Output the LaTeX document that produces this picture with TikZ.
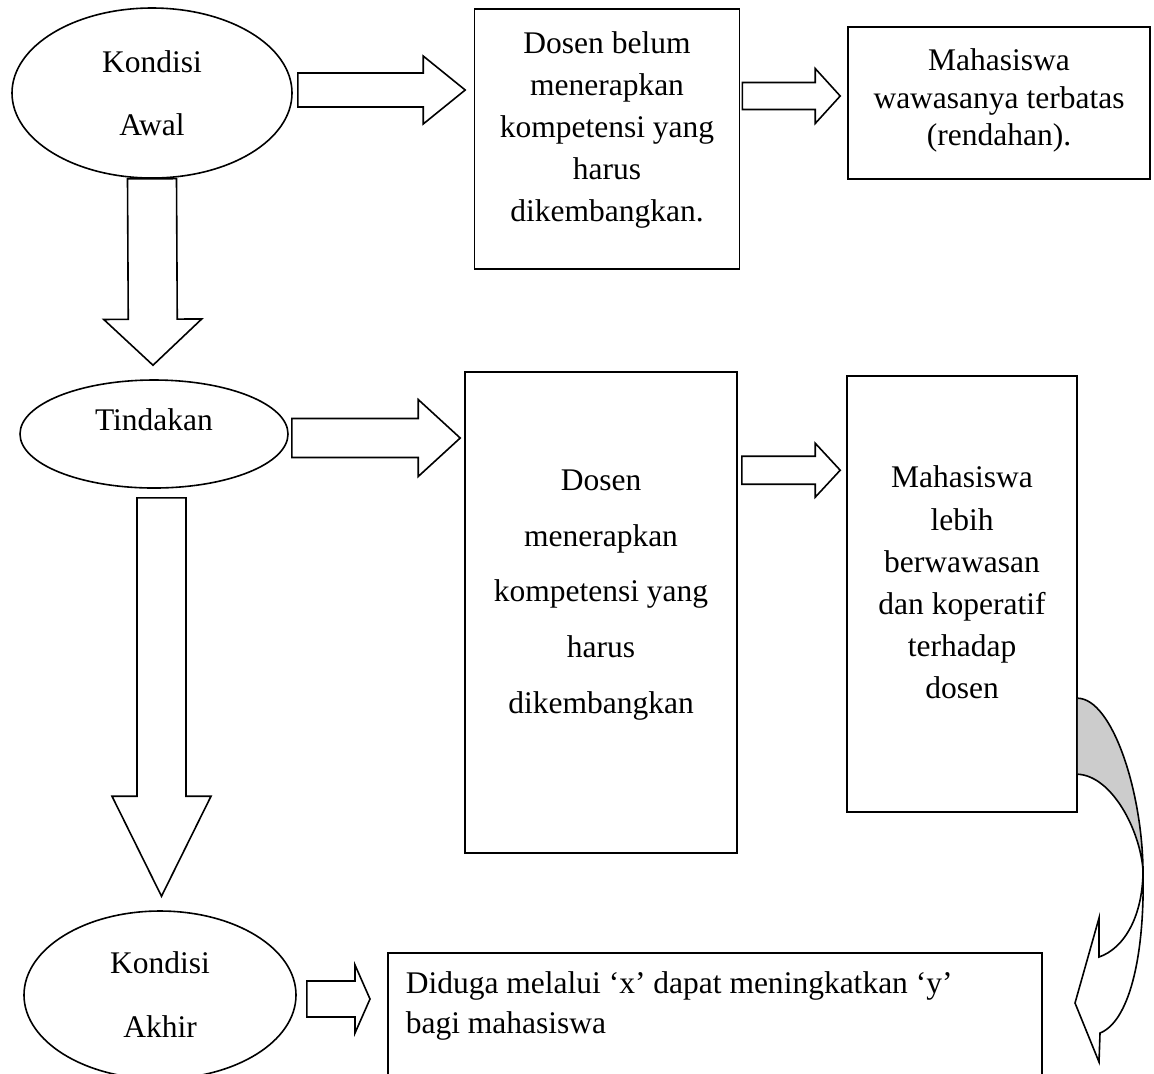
\documentclass[tikz,border=0pt]{standalone}
\usepackage{fontspec}
\setmainfont{Liberation Serif}
\usetikzlibrary{shapes.geometric,calc}

\begin{document}
\begin{tikzpicture}[x=0.5pt,y=-0.5pt,thick,
  state/.style={ellipse,draw,align=center,inner sep=0pt},
  box/.style={rectangle,draw,align=center,inner sep=0pt},
  fat arrow/.style args={#1/#2/#3}{to path={
    (\tikztostart) coordinate (s) (\tikztotarget) coordinate (t)
    ($(t)!#3!(s)$) coordinate (h)
    ($(s)!#1!90:(t)$) -- ($(h)!#1!90:(t)$) -- ($(h)!#2!90:(t)$) -- (t)
    -- ($(h)!#2!-90:(t)$) -- ($(h)!#1!-90:(t)$) -- ($(s)!#1!-90:(t)$) -- cycle}}]

  \useasboundingbox (0,0) rectangle (1154,1073);

  % left column
  \node[state,minimum width=140pt,minimum height=85pt,font=\fontsize{15.75}{31.5}\selectfont] (awal) at (152,93) {Kondisi\\Awal};
  \node[state,minimum width=134pt,minimum height=54pt,text depth=14pt,font=\fontsize{15.75}{19}\selectfont] (tindakan) at (154,434) {Tindakan};
  \node[state,minimum width=136pt,minimum height=84pt,font=\fontsize{15.75}{32}\selectfont] (akhir) at (160,995) {Kondisi\\Akhir};

  % boxes
  \node[box,minimum width=132.5pt,minimum height=130pt,text depth=12.4pt,font=\fontsize{15.75}{20.9}\selectfont] (b1) at (607,139) {Dosen belum\\menerapkan\\kompetensi yang\\harus\\dikembangkan.};
  \node[box,minimum width=151pt,minimum height=76pt,text depth=5.5pt,font=\fontsize{15.75}{18.75}\selectfont] (b2) at (999,103) {Mahasiswa\\wawasanya terbatas\\(rendahan).};
  \node[box,minimum width=136pt,minimum height=240.5pt,text depth=21pt,font=\fontsize{15.75}{27.9}\selectfont] (b3) at (601,612.5) {Dosen\\menerapkan\\kompetensi yang\\harus\\dikembangkan};
  \node[box,minimum width=115pt,minimum height=218pt,text depth=11.5pt,font=\fontsize{15.75}{21.1}\selectfont] (b4) at (962,594) {Mahasiswa\\lebih\\berwawasan\\dan koperatif\\terhadap\\dosen};
  \node[box,anchor=north west,align=flush left,text width=309pt,inner xsep=9pt,inner ysep=9.5pt,text depth=36.6pt,font=\fontsize{15.75}{20}\selectfont] (b5) at (387,952) {Diduga melalui ‘x’ dapat meningkatkan ‘y’\\bagi mahasiswa};

  % block arrows
  \draw[fat arrow=8.5pt/17pt/21pt] ($(awal.east)+(5,-3)$) to ($(b1.west |- awal.east)+(-8.5,-3)$);
  \draw[fat arrow=6.75pt/13.75pt/12.5pt] ($(b1.east |- b2.west)+(2,-7)$) to ($(b2.west)+(-7,-7)$);
  \draw[fat arrow=12.25pt/24.5pt/23pt] (awal.south) to ($(tindakan.north)+(-1,-14)$);
  \draw[fat arrow=9.75pt/19.25pt/21pt] ($(tindakan.east)+(3,4)$) to ($(b3.west |- tindakan.east)+(-4,4)$);
  \draw[fat arrow=7pt/13.5pt/12.5pt] ($(b3.north east)+(4,99)$) to ($(b4.north west)+(-6,95)$);
  \draw[fat arrow=12.25pt/24.75pt/50pt] ($(tindakan.south)+(7.5,9)$) to ($(akhir.north)+(1.5,-14)$);
  \draw[fat arrow=9pt/17pt/7.5pt] ($(akhir.east)+(10,4)$) to ($(b5.west |- akhir.east)+(-17,4)$);

  % curved arrow
  \coordinate (c1) at ($(b4.north east)+(0,323)$);
  \coordinate (c2) at ($(b4.north east)+(0,399)$);
  \coordinate (x) at (1143,870);
  \fill[black!20] (c1) .. controls (1112,699) and (1142,790) .. (x)
    .. controls (1140,830) and (1112,776) .. (c2) -- cycle;
  \draw (c1) .. controls (1112,699) and (1142,790) .. (x)
    .. controls (1145,960) and (1128,1022) .. (1100,1033) -- (1099,1062)
    -- (1075,1003) -- (1099,918) -- (1099,957)
    .. controls (1125,948) and (1143,915) .. (x)
    .. controls (1140,830) and (1112,776) .. (c2);
\end{tikzpicture}
\end{document}
